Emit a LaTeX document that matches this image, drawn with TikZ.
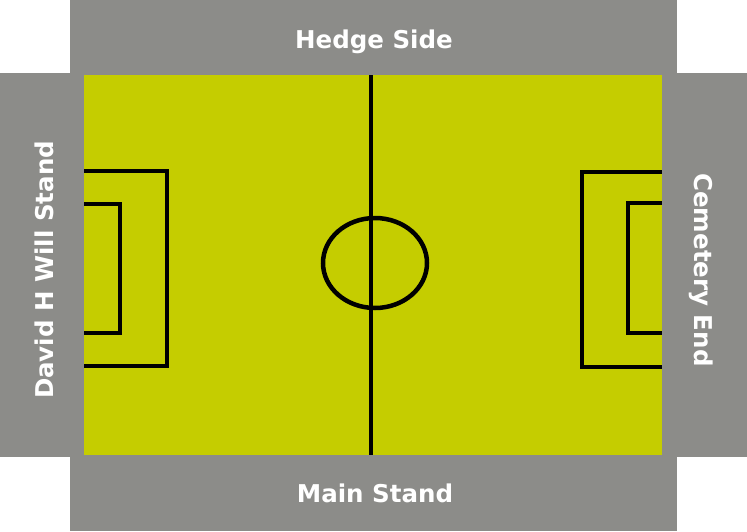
\documentclass[tikz,border=0pt]{standalone}
\usepackage{fontspec}
\setmainfont{DejaVu Sans}
\definecolor{standgrey}{RGB}{140,140,137}
\definecolor{pitchgreen}{RGB}{197,205,0}
\tikzset{
  standlabel/.style={text=white,anchor=base,inner sep=0pt,
    font=\bfseries\fontsize{24.5}{29}\selectfont},
  pitchline/.style={line width=4.5pt,line cap=rect},
  boxline/.style={line width=3.5pt,line cap=rect}
}
\begin{document}
\begin{tikzpicture}[x=1pt,y=-1pt]
  \useasboundingbox (0,0) rectangle (747,531);
  \fill[white] (0,0) rectangle (747,531);
  % stands
  \fill[standgrey] (70,0) rectangle (677,531);
  \fill[standgrey] (0,73) rectangle (747,457);
  % pitch
  \fill[pitchgreen] (84,75) rectangle (662,455);
  \draw[line width=4.5pt] (371,75) -- (371,455);
  \draw[line width=4.5pt] (375,263) ellipse (52 and 45);
  \draw[pitchline] (86,171) -- (167,171) -- (167,366) -- (86,366);
  \draw[boxline] (86,204) -- (120,204) -- (120,333) -- (86,333);
  \draw[pitchline] (660,172) -- (582,172) -- (582,367) -- (660,367);
  \draw[boxline] (660,203) -- (628,203) -- (628,333) -- (660,333);
  % labels
  \node[standlabel] (hedge) at (374,48) {Hedge Side};
  \node[standlabel] (main) at (375,502) {Main Stand};
  \node[standlabel,rotate=90] (david) at (53,270) {David H Will Stand};
  \node[standlabel,rotate=-90] (cemetery) at (694,270) {Cemetery End};
\end{tikzpicture}
\end{document}
